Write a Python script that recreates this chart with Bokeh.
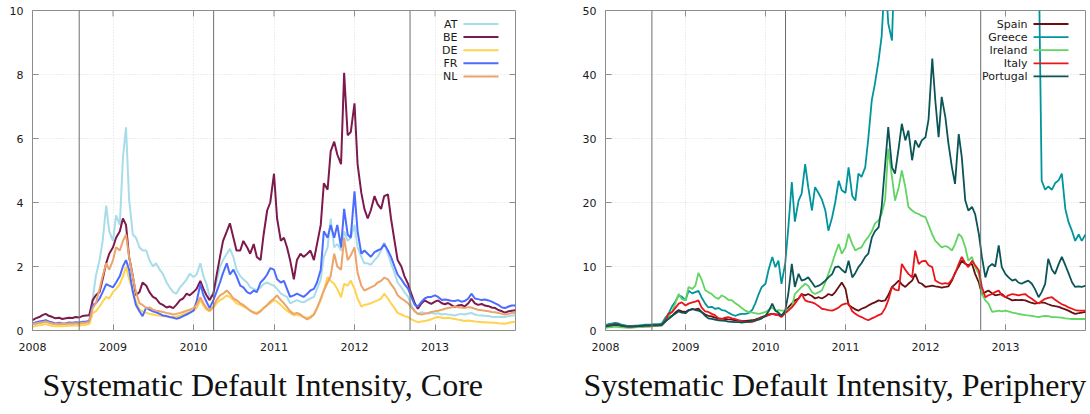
import pandas as pd
from bokeh.plotting import figure
from bokeh.layouts import row
from bokeh.models import (Span, Title, FixedTicker, NumeralTickFormatter,
                          Range1d, ColumnDataSource)
from bokeh.core.properties import value
from bokeh.embed import file_html
from bokeh.resources import INLINE

# ---------------- data (semi-monthly observations, 2008-01-01 .. 2014-01-01) ----------------
dates = pd.date_range("2008-01-01", "2014-01-01", freq="SMS")
event_dates = [2008.58, 2010.25, 2012.69]
year_ticks = [2008, 2009, 2010, 2011, 2012, 2013]
core_yticks = [0, 2, 4, 6, 8, 10]
peri_yticks = [0, 10, 20, 30, 40, 50]

core_names = ["AT", "BE", "DE", "FR", "NL"]
peri_names = ["Spain", "Greece", "Ireland", "Italy", "Portugal"]

AT = ([0.18,0.20,0.22,0.25,0.28,0.24,0.20,0.20,0.19,0.18,0.20,0.21,0.20,0.22,0.21,0.22,0.24,0.26,1.00,1.70,2.20,2.80,3.90,3.10]
    + [2.80,3.60,3.30,5.40,6.35,4.10,3.00,2.90,2.60,2.50,2.50,2.20,2.00,2.10,1.90,1.77,1.50,1.35,1.20,1.15,1.35,1.46,1.60,1.77]
    + [1.67,1.75,2.10,1.70,1.45,1.05,1.15,1.50,2.00,2.20,2.40,2.55,2.30,1.90,1.70,1.60,1.50,1.35,1.30,1.25,1.35,1.45,1.50,1.45]
    + [1.40,1.30,1.15,1.10,1.05,0.85,0.90,0.95,0.90,0.88,0.95,1.00,1.05,1.30,1.60,2.30,2.60,3.50,2.60,2.70,2.50,3.10,2.80,2.90]
    + [3.30,2.60,2.30,2.10,2.10,2.05,2.20,2.30,2.50,2.75,2.40,2.10,1.80,1.50,1.35,1.20,1.05,0.80,0.60,0.52,0.57,0.55,0.52,0.55]
    + [0.52,0.54,0.50,0.52,0.50,0.49,0.47,0.50,0.52,0.50,0.53,0.55,0.50,0.48,0.47,0.46,0.45,0.43,0.42,0.42,0.43,0.42,0.45,0.47]
    + [0.48])
BE = ([0.32,0.38,0.42,0.48,0.52,0.46,0.42,0.38,0.40,0.36,0.38,0.40,0.39,0.42,0.41,0.45,0.47,0.48,0.95,1.10,1.20,1.60,2.10,2.40]
    + [2.60,2.90,3.10,3.50,3.30,2.30,1.70,1.10,1.20,1.50,1.40,1.20,1.05,1.00,0.85,0.80,0.72,0.75,0.70,0.80,0.95,1.00,1.15,1.10]
    + [1.20,1.30,1.55,1.30,1.10,0.95,1.15,1.70,2.30,2.80,3.10,3.35,2.90,2.50,2.50,2.80,2.60,2.40,2.70,2.30,2.20,3.00,3.75,4.00]
    + [4.90,3.50,2.80,2.90,2.60,2.20,1.60,2.20,2.40,2.30,2.40,2.50,2.20,2.70,3.30,4.60,4.40,5.60,5.90,5.50,5.20,8.05,6.10,6.20]
    + [7.10,5.20,4.30,3.80,3.50,3.75,4.20,3.95,3.80,4.20,4.25,3.50,2.80,2.20,2.00,1.70,1.45,1.15,0.85,0.68,0.85,0.94,0.88,0.83]
    + [0.90,0.94,0.85,0.82,0.86,0.80,0.73,0.78,0.80,0.75,0.85,0.99,0.85,0.80,0.83,0.78,0.76,0.72,0.70,0.64,0.60,0.56,0.60,0.62]
    + [0.63])
DE = ([0.12,0.14,0.16,0.18,0.20,0.17,0.14,0.13,0.14,0.13,0.14,0.15,0.15,0.16,0.15,0.17,0.18,0.20,0.55,0.60,0.75,0.90,1.05,1.00]
    + [1.20,1.30,1.45,1.70,2.00,1.60,1.25,0.90,0.65,0.60,0.55,0.52,0.50,0.48,0.47,0.45,0.44,0.43,0.42,0.44,0.46,0.50,0.55,0.58]
    + [0.62,0.70,0.94,0.78,0.65,0.60,0.70,0.85,0.95,1.00,1.10,1.05,0.95,0.85,0.80,0.75,0.68,0.62,0.58,0.55,0.62,0.70,0.78,0.85]
    + [0.95,0.90,0.80,0.70,0.62,0.55,0.47,0.50,0.46,0.42,0.40,0.44,0.50,0.70,0.95,1.25,1.67,1.55,1.46,1.30,1.04,1.46,1.40,1.56]
    + [1.30,1.00,0.75,0.80,0.82,0.85,0.90,0.94,1.00,1.15,1.00,0.85,0.70,0.55,0.50,0.45,0.42,0.35,0.30,0.26,0.28,0.30,0.32,0.35]
    + [0.40,0.42,0.40,0.38,0.40,0.38,0.36,0.34,0.32,0.30,0.31,0.30,0.28,0.27,0.26,0.26,0.25,0.24,0.24,0.23,0.22,0.21,0.24,0.26]
    + [0.27])
FR = ([0.22,0.25,0.28,0.30,0.32,0.28,0.25,0.22,0.24,0.22,0.23,0.25,0.24,0.26,0.25,0.27,0.28,0.30,0.80,0.85,1.00,1.20,1.45,1.40]
    + [1.35,1.50,1.70,2.00,2.20,1.90,1.20,0.80,0.60,0.45,0.72,0.65,0.60,0.57,0.52,0.47,0.45,0.42,0.40,0.37,0.40,0.45,0.50,0.55]
    + [0.62,0.90,1.45,1.10,0.90,0.70,0.95,1.20,1.50,1.80,2.10,1.75,1.90,1.70,1.40,1.35,1.20,1.15,1.25,1.20,1.50,1.60,1.75,1.95]
    + [1.90,1.60,1.50,1.55,1.30,1.05,1.10,1.15,1.10,1.05,1.15,1.25,1.30,1.50,1.90,3.10,2.90,3.30,2.90,3.30,2.60,3.80,3.00,2.90]
    + [4.35,3.10,2.40,2.50,2.40,2.30,2.45,2.50,2.55,2.70,2.50,2.30,2.00,1.75,1.60,1.45,1.30,1.05,0.80,0.75,0.90,1.00,1.05,1.05]
    + [1.10,1.05,0.95,0.97,0.95,0.93,0.92,0.95,0.90,0.92,1.00,1.15,1.00,0.98,0.95,0.97,0.94,0.90,0.85,0.80,0.72,0.70,0.75,0.78]
    + [0.78])
NL = ([0.20,0.22,0.24,0.26,0.28,0.25,0.22,0.20,0.21,0.20,0.21,0.22,0.22,0.23,0.22,0.24,0.25,0.27,0.70,0.85,1.30,1.70,2.10,1.90]
    + [2.20,2.60,2.50,2.80,3.00,2.30,1.67,1.20,0.85,0.80,0.70,0.72,0.65,0.62,0.60,0.58,0.55,0.53,0.50,0.52,0.55,0.58,0.62,0.65]
    + [0.70,0.80,1.04,0.85,0.70,0.62,0.75,0.95,1.10,1.15,1.25,1.15,1.00,0.95,0.85,0.80,0.70,0.62,0.55,0.52,0.60,0.70,0.80,0.90]
    + [1.00,1.10,0.95,0.85,0.73,0.60,0.52,0.55,0.50,0.42,0.35,0.40,0.50,0.70,1.00,1.25,1.50,1.70,2.40,2.00,1.90,2.90,2.20,2.35]
    + [2.60,1.80,1.40,1.25,1.30,1.35,1.40,1.50,1.55,1.65,1.60,1.45,1.30,1.10,1.00,0.94,0.85,0.73,0.60,0.52,0.50,0.52,0.55,0.58]
    + [0.60,0.62,0.65,0.68,0.70,0.72,0.75,0.73,0.72,0.70,0.73,0.72,0.68,0.65,0.63,0.62,0.60,0.58,0.57,0.55,0.52,0.50,0.52,0.55]
    + [0.56])

Spain = ([0.50,0.60,0.70,0.75,0.70,0.60,0.55,0.50,0.50,0.55,0.60,0.60,0.65,0.65,0.70,0.70,0.75,0.80,1.40,1.90,2.30,2.80,3.20,3.00]
    + [2.90,3.20,3.30,3.30,3.40,2.90,2.50,2.30,2.20,2.00,1.90,1.85,1.80,1.75,1.70,1.60,1.55,1.50,1.50,1.55,1.60,1.70,1.90,2.10]
    + [2.30,2.50,2.60,2.50,2.50,2.40,2.80,3.60,4.20,4.70,5.00,5.70,5.50,5.70,5.40,5.00,5.20,5.00,5.30,5.70,5.50,6.00,6.80,7.50]
    + [6.50,4.00,3.60,3.30,3.10,3.40,3.60,3.90,4.20,4.40,4.70,4.60,4.70,5.50,6.80,7.20,7.80,7.20,6.80,7.30,7.80,8.85,7.50,7.30]
    + [6.80,6.90,7.00,6.90,6.80,6.70,6.80,6.90,7.80,9.00,10.00,10.90,10.40,10.20,10.40,8.85,7.50,5.70,6.00,6.25,5.80,5.50,5.60,5.70]
    + [5.20,5.00,4.70,4.80,4.75,4.80,4.70,4.50,4.30,4.20,4.30,4.40,4.30,4.10,3.90,3.80,3.70,3.50,3.30,3.10,2.80,2.60,2.70,2.80]
    + [2.90])
Greece = ([0.80,1.00,1.10,1.20,1.10,0.90,0.80,0.70,0.70,0.75,0.80,0.85,0.90,0.90,0.95,1.00,1.00,1.10,2.00,2.60,3.80,4.50,5.50,5.30]
    + [4.70,6.20,5.80,6.00,6.20,5.20,4.20,3.60,3.70,3.40,3.50,3.20,3.10,2.80,2.50,2.30,2.50,2.60,2.60,2.70,3.20,4.20,5.70,6.80]
    + [7.30,9.50,11.50,9.90,10.90,7.30,10.50,16.00,23.20,17.00,20.30,21.40,26.00,22.40,18.75,22.40,21.40,20.50,18.75,15.60,17.70,20.00,23.40,21.90]
    + [21.50,25.50,21.00,20.30,24.50,24.00,25.50,30.00,36.00,38.50,42.20,46.00,56.00,48.00,45.30,60.00,70.00,75.00,80.00,90.00,100.0,110.0,120.0,130.0]
    + [140.0,150.0,160.0,170.0,180.0,200.0,220.0,240.0,230.0,220.0,210.0,200.0,190.0,180.0,170.0,160.0,150.0,140.0,130.0,120.0,110.0,100.0,95.0,90.0]
    + [85.0,80.0,78.0,75.0,72.0,70.0,68.0,66.0,64.0,62.0,60.0,23.40,22.00,22.50,22.00,23.00,23.50,24.50,19.00,17.00,15.50,14.00,15.00,14.00]
    + [15.00])
Ireland = ([0.40,0.50,0.55,0.60,0.55,0.50,0.45,0.45,0.50,0.50,0.55,0.55,0.60,0.60,0.65,0.70,0.75,0.80,1.50,2.20,3.00,4.20,5.70,4.90]
    + [4.70,6.80,6.50,7.00,9.00,8.00,6.30,6.00,5.70,5.20,4.95,5.50,5.20,4.80,4.70,4.30,3.90,3.50,3.10,2.90,2.80,2.70,2.60,2.70]
    + [2.90,3.20,3.60,3.10,3.20,3.10,3.10,3.30,3.60,5.70,6.30,6.80,7.30,7.00,6.00,5.70,6.00,6.25,7.50,8.85,10.50,12.00,13.50,12.00]
    + [13.00,15.10,13.50,12.50,12.80,13.00,14.00,14.60,15.50,16.70,17.20,18.20,20.50,28.40,24.00,20.30,22.40,25.00,22.40,19.30,18.75,18.40,18.20,17.90]
    + [17.70,16.50,15.00,14.00,13.50,13.00,13.20,13.00,12.50,13.50,15.10,14.60,13.00,10.90,11.50,9.90,8.85,5.70,4.70,4.20,2.90,3.00,3.10,3.00]
    + [3.10,3.00,2.80,2.70,2.60,2.50,2.40,2.35,2.30,2.20,2.10,2.20,2.30,2.25,2.10,2.10,2.05,2.00,1.90,1.85,1.80,1.80,1.80,1.80]
    + [1.80])
Italy = ([0.60,0.80,0.90,1.00,0.90,0.75,0.65,0.60,0.60,0.65,0.70,0.70,0.75,0.75,0.80,0.80,0.85,0.90,1.50,2.60,2.90,3.50,4.20,4.40]
    + [3.90,4.20,4.40,4.50,4.70,3.60,3.00,2.90,2.60,2.40,1.90,1.80,2.00,2.10,1.90,1.80,1.60,1.50,1.40,1.30,1.35,1.50,1.80,2.10]
    + [2.20,2.40,2.60,2.50,2.40,2.10,2.70,3.10,3.60,4.20,5.00,5.70,4.70,4.50,4.40,4.20,3.80,3.40,3.30,3.20,3.10,3.30,3.60,4.00]
    + [4.20,4.20,3.00,2.60,2.30,2.10,1.80,1.60,1.90,2.10,2.40,2.60,3.50,4.70,6.80,6.40,6.25,10.40,9.50,8.85,8.30,12.50,10.40,10.80]
    + [10.90,10.20,9.90,7.80,7.50,7.30,7.40,7.30,8.00,8.85,10.40,11.50,10.50,9.90,10.90,10.20,9.40,6.80,5.20,5.50,5.70,6.00,6.25,5.50]
    + [5.20,5.50,5.70,5.60,5.50,5.60,5.70,5.30,4.95,4.60,4.20,4.60,4.95,5.10,5.20,4.80,4.40,4.10,3.90,3.60,3.40,3.20,3.10,3.10]
    + [3.10])
Portugal = ([0.60,0.75,0.85,0.95,0.90,0.75,0.65,0.60,0.62,0.65,0.70,0.72,0.75,0.75,0.80,0.80,0.85,0.90,1.50,1.80,2.30,2.60,3.00,2.80]
    + [2.70,3.10,3.40,3.20,3.10,2.90,2.30,1.90,1.80,1.70,1.60,1.55,1.50,1.40,1.35,1.30,1.30,1.25,1.30,1.40,1.50,1.60,1.70,1.90]
    + [2.30,3.00,4.20,3.10,2.80,2.30,3.10,5.70,10.40,6.80,8.85,7.80,8.00,8.30,7.50,6.80,7.00,7.30,7.80,8.30,8.80,9.90,10.00,9.50]
    + [9.00,10.90,8.30,9.00,9.90,10.50,11.50,12.00,14.50,15.50,16.10,19.30,26.00,31.80,25.50,24.50,28.60,32.30,29.70,31.25,26.60,29.70,28.60,29.70]
    + [30.20,33.00,42.50,35.90,30.20,36.50,33.30,29.20,25.50,22.90,30.70,27.10,20.30,18.75,19.30,18.20,15.10,11.50,8.30,9.90,10.40,10.00,13.30,9.90]
    + [8.80,8.30,7.80,8.00,7.50,7.30,7.60,7.80,7.30,6.50,5.20,6.00,7.30,11.20,9.50,8.85,10.40,11.50,10.20,9.00,7.50,6.80,6.90,6.80]
    + [7.00])

core_series = [AT, BE, DE, FR, NL]
peri_series = [Spain, Greece, Ireland, Italy, Portugal]
for s in core_series + peri_series:
    assert len(s) == len(dates), len(s)

# ---------------- styles ----------------
core_colors = ["#a9dcea", "#7d1a4d", "#ffd24f", "#4b6cff", "#eba46b"]
peri_colors = ["#6b0e10", "#00949c", "#62d462", "#e8161b", "#0b5457"]
FONT = "DejaVu Sans"
TXT = "#1a1a1a"
FRAME = "#8c8c8c"
TICK_PX = 6

years = [d.year + (d.dayofyear - 1) / (366 if d.is_leap_year else 365) for d in dates]


def make_fig(width, bl, br, y_max, y_ticks, px_per_year, px_per_unit, title, title_offset):
    p = figure(width=width, height=414, x_range=Range1d(2008, 2014), y_range=Range1d(0, y_max),
               output_backend="svg", toolbar_location=None,
               min_border_left=bl, min_border_right=br, min_border_top=10, min_border_bottom=84)
    p.background_fill_color = "white"
    p.border_fill_color = "white"
    p.outline_line_color = FRAME
    p.outline_line_width = 1

    for ax, ticks in ((p.xaxis[0], year_ticks), (p.yaxis[0], y_ticks)):
        ax.ticker = FixedTicker(ticks=ticks)
        ax.axis_line_color = None
        ax.major_tick_in = TICK_PX
        ax.major_tick_out = 0
        ax.minor_tick_line_color = None
        ax.major_tick_line_color = FRAME
        ax.major_label_text_font = FONT
        ax.major_label_text_font_size = "11px"
        ax.major_label_text_color = TXT
    p.xaxis[0].formatter = NumeralTickFormatter(format="0")
    p.xaxis[0].major_label_standoff = 12
    p.yaxis[0].major_label_standoff = 9

    # mirrored tick marks on the top and right edges of the frame
    tx = year_ticks[1:]
    p.segment(x0=tx, x1=tx, y0=[y_max] * len(tx), y1=[y_max - TICK_PX / px_per_unit] * len(tx),
              line_color=FRAME, line_width=1)
    ty = y_ticks[1:-1]
    p.segment(x0=[2014] * len(ty), x1=[2014 - TICK_PX / px_per_year] * len(ty), y0=ty, y1=ty,
              line_color=FRAME, line_width=1)

    p.xgrid.ticker = FixedTicker(ticks=year_ticks)
    p.ygrid.ticker = FixedTicker(ticks=y_ticks)
    for g in (p.xgrid[0], p.ygrid[0]):
        g.grid_line_color = "#dcdcdc"
        g.grid_line_dash = "1 2"
        g.grid_line_width = 1

    for d in event_dates:
        p.add_layout(Span(location=d, dimension="height", line_color="#6e6e6e", line_width=1))

    p.add_layout(Title(text=title, align="left", text_font="Liberation Serif",
                       text_font_size="32px", text_font_style="normal", text_color="#111111",
                       offset=title_offset, standoff=22), "below")
    return p


def add_series(p, names, series, colors, lw, px_per_year, px_per_unit, y_max):
    for name, s, c in zip(names, series, colors):
        src = ColumnDataSource(dict(x=years, y=s))
        p.line("x", "y", source=src, line_color=c, line_width=lw)
    # legend: label right-aligned, sample line to its right (gnuplot style)
    def dx(px):
        return 2014 - px / px_per_year
    def dy(px):
        return y_max - px / px_per_unit
    rows = [13.5 + 13.1 * k for k in range(len(names))]
    ys = [dy(r) for r in rows]
    p.segment(x0=[dx(52)] * len(names), x1=[dx(17)] * len(names), y0=ys, y1=ys,
              line_color=colors, line_width=lw)
    p.text(x=[dx(58)] * len(names), y=ys, text=names, text_align="right", text_baseline="middle",
           text_font=value(FONT), text_font_size="11px", text_color=TXT)


p1 = make_fig(545, 32, 30, 10, core_yticks, 80.4, 32.0, "Systematic Default Intensity, Core", 10)
add_series(p1, core_names, core_series, core_colors, 2, 80.4, 32.0, 10)

p2 = make_fig(545, 60, 5, 50, peri_yticks, 80.0, 6.4, "Systematic Default Intensity, Periphery", -22)
add_series(p2, peri_names, peri_series, peri_colors, 1.8, 80.0, 6.4, 50)

layout = row(p1, p2, spacing=0)
open("out.html", "w").write(file_html(layout, INLINE))
